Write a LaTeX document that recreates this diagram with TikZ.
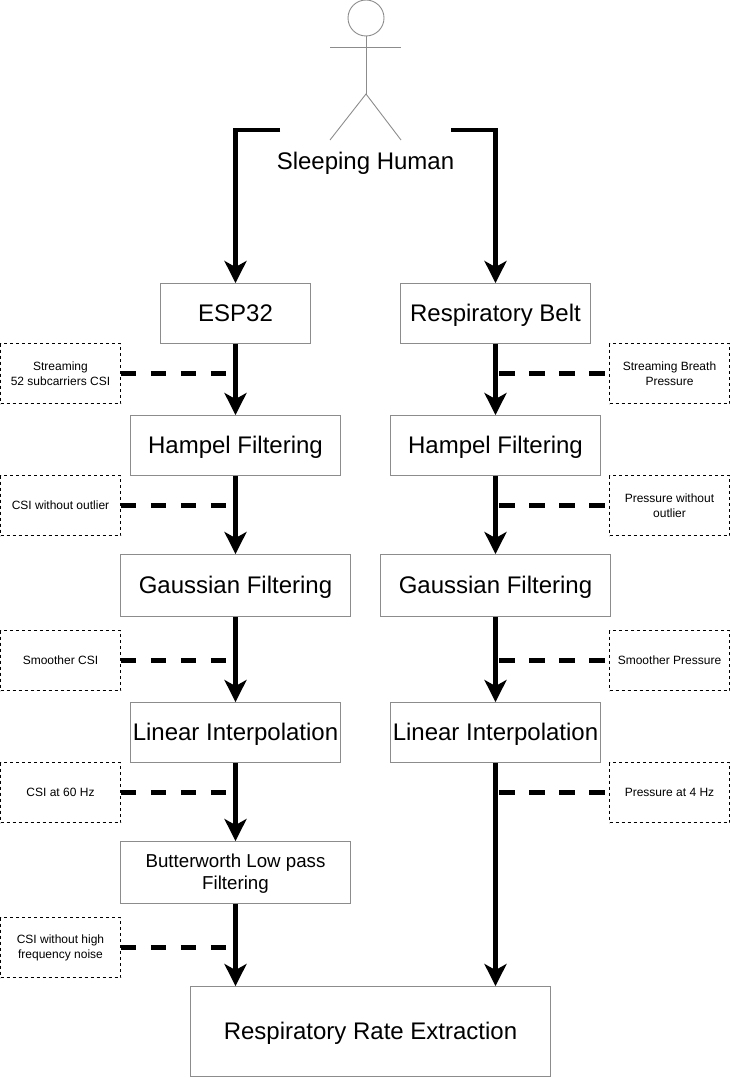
\documentclass[tikz,border=0pt]{standalone}
\usepackage{fontspec}
\setmainfont{Liberation Sans}
\usetikzlibrary{arrows.meta,positioning,calc}
\tikzset{
  procbox/.style={draw=black!45,line width=0.9pt,fill=white,inner sep=0pt,align=center,text height=16pt,text depth=0pt,font=\fontsize{24}{28}\selectfont},
  twoline/.style={draw=black!45,line width=0.9pt,fill=white,inner sep=0pt,align=center,font=\fontsize{18.7}{22}\selectfont},
  notebox/.style={draw=black,line width=0.9pt,dash pattern=on 3pt off 3pt,fill=white,inner sep=0pt,align=center,minimum width=120pt,minimum height=60pt,font=\fontsize{12}{15}\selectfont},
  flow/.style={line width=4.3pt,-{Stealth[length=22pt,width=22pt,inset=6pt]}},
  link/.style={line width=4.3pt,dash pattern=on 15.5pt off 14.5pt,yshift=0.5pt},
  linkright/.style={link,dash phase=26.5pt},
  person/.style={draw=black!45,line width=0.9pt}
}
\begin{document}
\begin{tikzpicture}[x=1pt,y=-1pt]
\useasboundingbox (0,0) rectangle (730,1078);
% stick figure
\node[person,circle,minimum size=36pt,inner sep=0pt] (head) at (366,18) {};
\coordinate (hip) at (366,94);
\coordinate (armL) at (330,47);
\coordinate (armR) at (401,47);
\coordinate (legL) at (330,140);
\coordinate (legR) at (401,140);
\draw[person] (head.south) -- (hip);
\draw[person] (armL) -- (armR);
\draw[person] (legL) -- (hip) -- (legR);
\node[font=\fontsize{24}{28}\selectfont,inner sep=0pt,text height=16pt,text depth=0pt] (human) at (365.5,162) {Sleeping Human};
\coordinate (startL) at (280,130);
\coordinate (startR) at (451,130);
% left column
\node[procbox,minimum width=150pt,minimum height=60pt] (esp) at (235.5,313.5) {ESP32};
\node[procbox,minimum width=210pt,minimum height=60pt] (hampL) at (235.5,445.5) {Hampel Filtering};
\node[procbox,minimum width=230pt,minimum height=62pt] (gaussL) at (235.5,585.5) {Gaussian Filtering};
\node[procbox,minimum width=210pt,minimum height=60pt] (linL) at (235.5,732.5) {Linear Interpolation};
\node[twoline,minimum width=230pt,minimum height=62pt] (butter) at (235.5,872.5) {\rule{0pt}{16.5pt}Butterworth Low pass\\Filtering};
% right column
\node[procbox,minimum width=190pt,minimum height=60pt] (belt) at (495.5,313.5) {Respiratory Belt};
\node[procbox,minimum width=210pt,minimum height=60pt] (hampR) at (495.5,445.5) {Hampel Filtering};
\node[procbox,minimum width=230pt,minimum height=62pt] (gaussR) at (495.5,585.5) {Gaussian Filtering};
\node[procbox,minimum width=210pt,minimum height=60pt] (linR) at (495.5,732.5) {Linear Interpolation};
\node[procbox,minimum width=360pt,minimum height=90pt] (rre) at (370.5,1031.5) {Respiratory Rate Extraction};
% notes left
\node[notebox] (nL1) at (60.5,373.5) {Streaming\\52 subcarriers CSI};
\node[notebox] (nL2) at (60.5,505.5) {CSI without outlier};
\node[notebox] (nL3) at (60.5,660.5) {Smoother CSI};
\node[notebox] (nL4) at (60.5,792.5) {CSI at 60 Hz};
\node[notebox] (nL5) at (60.5,947.5) {CSI without high\\frequency noise};
% notes right
\node[notebox] (nR1) at (669.5,373.5) {Streaming Breath\\Pressure};
\node[notebox] (nR2) at (669.5,505.5) {Pressure without\\outlier};
\node[notebox] (nR3) at (669.5,660.5) {Smoother Pressure};
\node[notebox] (nR4) at (669.5,792.5) {Pressure at 4 Hz};
% dashed links
\foreach \n/\t in {nL1/esp,nL2/hampL,nL3/gaussL,nL4/linL,nL5/butter}{
  \draw[link] (\n.east) -- (\n.east -| \t.south);
}
\foreach \n/\t in {nR1/belt,nR2/hampR,nR3/gaussR,nR4/linR}{
  \draw[linkright] (\n.west -| \t.south) -- (\n.west);
}
% elbows
\draw[flow] (startL) -- (235.5,130) -- (esp.north);
\draw[flow] (startR) -- (495.5,130) -- (belt.north);
% flows
\draw[flow] (esp.south) -- (hampL.north);
\draw[flow] (hampL.south) -- (gaussL.north);
\draw[flow] (gaussL.south) -- (linL.north);
\draw[flow] (linL.south) -- (butter.north);
\draw[flow] (butter.south) -- (butter.south |- rre.north);
\draw[flow] (belt.south) -- (hampR.north);
\draw[flow] (hampR.south) -- (gaussR.north);
\draw[flow] (gaussR.south) -- (linR.north);
\draw[flow] (linR.south) -- (linR.south |- rre.north);
\end{tikzpicture}
\end{document}
